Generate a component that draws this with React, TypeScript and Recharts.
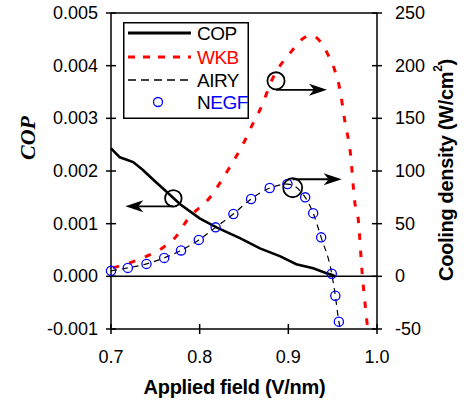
import React from 'react';
import {
  ComposedChart,
  Line,
  Scatter,
  XAxis,
  YAxis,
  ReferenceLine,
  ReferenceDot,
  Legend
} from 'recharts';

const FONT = '"Liberation Sans", Arial, Helvetica, sans-serif';
const SERIF = '"Liberation Serif", "Times New Roman", serif';

// axis ticks
const fieldTicks = [0.7, 0.8, 0.9, 1.0];
const copTicks = [-0.001, 0, 0.001, 0.002, 0.003, 0.004, 0.005];
const coolTicks = [-50, 0, 50, 100, 150, 200, 250];

// COP (left axis)
const copField = [0.70, 0.71, 0.725, 0.736, 0.748, 0.763, 0.778, 0.800, 0.819, 0.846, 0.868, 0.891, 0.909, 0.928, 0.943, 0.949, 0.953];
const copValue = [0.00243, 0.00226, 0.00217, 0.00202, 0.00183, 0.0016, 0.00137, 0.00110, 0.00093, 0.00072, 0.00053, 0.00038, 0.00023, 0.000155, 0.00006, 0.00003, 0.0];

// WKB cooling density (right axis)
const wkbField = [0.702, 0.721, 0.741, 0.758, 0.774, 0.786, 0.812, 0.832, 0.851, 0.860, 0.868, 0.883, 0.904, 0.917, 0.925, 0.936, 0.945, 0.953, 0.958, 0.964, 0.970, 0.975, 0.979, 0.983, 0.988, 0.990];
const wkbValue = [8, 12.8, 19.4, 27, 38.4, 53.5, 75.3, 101, 129, 145, 158, 189, 214, 226, 229, 223, 210, 194, 178, 146, 117, 70, 53, 6, -38, -54];

// NEGF cooling density (right axis, circles)
const negfField = [0.700, 0.719, 0.740, 0.760, 0.779, 0.799, 0.818, 0.838, 0.858, 0.879, 0.899, 0.919, 0.928, 0.937, 0.949, 0.953, 0.957];
const negfValue = [5.2, 8, 11.8, 17.5, 24.6, 34.6, 46.5, 59.2, 73.4, 83.8, 87.6, 75, 60, 37, 2.4, -18.5, -43];

// AIRY cooling density (right axis, thin dashed)
const airyField = [0.700, 0.719, 0.740, 0.760, 0.779, 0.799, 0.818, 0.838, 0.858, 0.879, 0.899, 0.919, 0.928, 0.937, 0.949, 0.953, 0.957, 0.961];
const airyValue = [5.2, 8, 11.8, 17.5, 24.6, 34.6, 46.5, 59.2, 73.4, 83.8, 87.6, 75, 60, 37, 2.4, -18.5, -43, -55];

const zip = (xs: number[], ys: number[]) => xs.map((x, i) => ({ field: x, value: ys[i] }));

const copData = zip(copField, copValue);
const wkbData = zip(wkbField, wkbValue);
const negfData = zip(negfField, negfValue);
const airyData = zip(airyField, airyValue);

const TS = 5; // tick half length

const LeftTick = (p: any) => {
  const ax = p.x + 8 + TS;
  return (
    <g>
      <line x1={ax} x2={ax + TS} y1={p.y} y2={p.y} stroke="#000" strokeWidth={1.5} />
      <text x={p.x} y={p.y} textAnchor="end" dominantBaseline="central" fontSize={18} fontFamily={FONT} fill="#000">
        {Number(p.payload.value).toFixed(3)}
      </text>
    </g>
  );
};

const RightTick = (p: any) => {
  const ax = p.x - 13 - TS;
  return (
    <g>
      <line x1={ax - TS} x2={ax} y1={p.y} y2={p.y} stroke="#000" strokeWidth={1.5} />
      <text x={p.x} y={p.y} textAnchor="start" dominantBaseline="central" fontSize={18} fontFamily={FONT} fill="#000">
        {p.payload.value}
      </text>
    </g>
  );
};

const BottomTick = (p: any) => {
  const ay = p.y - 29 - TS;
  return (
    <g>
      <line x1={p.x} x2={p.x} y1={ay - TS} y2={ay} stroke="#000" strokeWidth={1.5} />
      <text x={p.x} y={p.y} textAnchor="middle" fontSize={18} fontFamily={FONT} fill="#000">
        {Number(p.payload.value).toFixed(1)}
      </text>
    </g>
  );
};

const xTitle = ({ viewBox }: any) => (
  <text x={viewBox.x + viewBox.width / 2 - 9.5} y={viewBox.y + 65} textAnchor="middle"
    fontFamily={FONT} fontWeight="bold" fontSize={20} letterSpacing={-0.3} fill="#000">
    Applied field (V/nm)
  </text>
);

const copTitle = ({ viewBox }: any) => {
  const cx = viewBox.x + 27;
  const cy = viewBox.y + 125;
  return (
    <text x={cx} y={cy} transform={`rotate(-90, ${cx}, ${cy})`} textAnchor="middle" dominantBaseline="central"
      fontFamily={SERIF} fontWeight="bold" fontStyle="italic" fontSize={22} fill="#000">
      COP
    </text>
  );
};

const coolTitle = ({ viewBox }: any) => {
  const cx = viewBox.x + 69;
  const cy = viewBox.y + 157;
  return (
    <text x={cx} y={cy} transform={`rotate(-90, ${cx}, ${cy})`} textAnchor="middle" dominantBaseline="central"
      fontFamily={FONT} fontWeight="bold" fontSize={20} letterSpacing={-0.3} fill="#000">
      Cooling density (W/cm<tspan dy={-8} fontSize={12}>2</tspan><tspan dy={8}>)</tspan>
    </text>
  );
};

// circle + arrow annotation, pointing toward the axis the curve belongs to
const marker = (dx: number, dy: number, r: number) => (p: any) => {
  const { cx, cy } = p;
  const y = cy + dy;
  const tip = cx + dx;
  const dir = Math.sign(dx);
  const head = `${tip},${y} ${tip - dir * 18},${y - 6} ${tip - dir * 13},${y} ${tip - dir * 18},${y + 6}`;
  return (
    <g>
      <circle cx={cx} cy={cy} r={r} fill="none" stroke="#000" strokeWidth={1.8} />
      <line x1={cx} y1={y} x2={tip - dir * 13} y2={y} stroke="#000" strokeWidth={1.8} />
      <polygon points={head} fill="#000" />
    </g>
  );
};

const LegendBox = () => (
  <svg width={126} height={97} style={{ display: 'block' }}>
    <rect x={0.75} y={0.75} width={124.5} height={95.5} fill="#fff" stroke="#000" strokeWidth={1.5} />
    <line x1={5} x2={68} y1={11} y2={11} stroke="#000" strokeWidth={3} />
    <text x={74} y={11} dominantBaseline="central" fontSize={19} fontFamily={FONT} letterSpacing={-0.5} fill="#000">COP</text>
    <line x1={5} x2={68} y1={35} y2={35} stroke="#ff0000" strokeWidth={3} strokeDasharray="7 8" />
    <text x={74} y={35} dominantBaseline="central" fontSize={19} fontFamily={FONT} letterSpacing={-0.5} fill="#ff0000">WKB</text>
    <line x1={5} x2={68} y1={58} y2={58} stroke="#000" strokeWidth={1.3} strokeDasharray="8 5" />
    <text x={74} y={58} dominantBaseline="central" fontSize={19} fontFamily={FONT} letterSpacing={-0.5} fill="#000">AIRY</text>
    <circle cx={35} cy={80} r={4.5} fill="none" stroke="#0000ff" strokeWidth={1.3} />
    <text x={74} y={80} dominantBaseline="central" fontSize={19} fontFamily={FONT} letterSpacing={-0.5}>
      <tspan fill="#000">N</tspan><tspan fill="#0000ff">EGF</tspan>
    </text>
  </svg>
);

const NegfDot = (p: any) => (
  <circle cx={p.cx} cy={p.cy} r={4.6} fill="none" stroke="#0000ff" strokeWidth={1.3} />
);

export default function App() {
  return (
    <div style={{ position: 'relative', width: 464, height: 407, background: '#fff' }}>
      <style>{'body{margin:0;overflow:hidden;}'}</style>
      <ComposedChart width={464} height={407} margin={{ top: 13, right: 0, bottom: 0, left: 0 }}>
        <XAxis
          dataKey="field"
          type="number"
          domain={[0.7, 1.0]}
          ticks={fieldTicks}
          interval={0}
          height={78}
          tickSize={TS}
          tickMargin={29}
          axisLine={{ stroke: '#000', strokeWidth: 1.5 }}
          tickLine={{ stroke: '#000', strokeWidth: 1.5 }}
          tick={BottomTick}
          label={xTitle}
          allowDuplicatedCategory={false}
        />
        <YAxis
          yAxisId="left"
          type="number"
          domain={[-0.001, 0.005]}
          ticks={copTicks}
          interval={0}
          width={111}
          tickSize={TS}
          tickMargin={8}
          axisLine={{ stroke: '#000', strokeWidth: 1.5 }}
          tickLine={{ stroke: '#000', strokeWidth: 1.5 }}
          tick={LeftTick}
          label={copTitle}
        />
        <YAxis
          yAxisId="right"
          orientation="right"
          type="number"
          domain={[-50, 250]}
          ticks={coolTicks}
          interval={0}
          width={87}
          allowDataOverflow
          tickSize={TS}
          tickMargin={13}
          axisLine={{ stroke: '#000', strokeWidth: 1.5 }}
          tickLine={{ stroke: '#000', strokeWidth: 1.5 }}
          tick={RightTick}
          label={coolTitle}
        />
        <YAxis yAxisId="negf" type="number" domain={[-50, 250]} hide />
        <ReferenceLine yAxisId="left" y={0} stroke="#000" strokeWidth={1.5} />
        <ReferenceLine yAxisId="left" y={0.005} stroke="#000" strokeWidth={1.5} />
        <Line
          yAxisId="left"
          data={copData}
          dataKey="value"
          type="linear"
          stroke="#000"
          strokeWidth={2.6}
          dot={false}
          isAnimationActive={false}
        />
        <Line
          yAxisId="right"
          data={wkbData}
          dataKey="value"
          type="monotone"
          stroke="#ff0000"
          strokeWidth={3}
          strokeDasharray="6.5 10.5"
          dot={false}
          isAnimationActive={false}
        />
        <Line
          yAxisId="right"
          data={airyData}
          dataKey="value"
          type="monotone"
          stroke="#000"
          strokeWidth={1.2}
          strokeDasharray="6 5"
          dot={false}
          isAnimationActive={false}
        />
        <Scatter
          yAxisId="negf"
          data={negfData}
          dataKey="value"
          shape={NegfDot}
          isAnimationActive={false}
        />
        <ReferenceDot yAxisId="left" x={0.7703} y={0.001481} r={8} shape={marker(-48, 8, 8.3)} />
        <ReferenceDot yAxisId="right" x={0.8861} y={185.6} r={8} shape={marker(51, 9, 8.6)} />
        <ReferenceDot yAxisId="right" x={0.9049} y={84.1} r={8} shape={marker(49, -8.5, 9.5)} />
        <Legend
          verticalAlign="middle"
          align="center"
          content={LegendBox}
          wrapperStyle={{ position: 'absolute', left: 123, top: 22, width: 126, height: 97 }}
        />
      </ComposedChart>
    </div>
  );
}
